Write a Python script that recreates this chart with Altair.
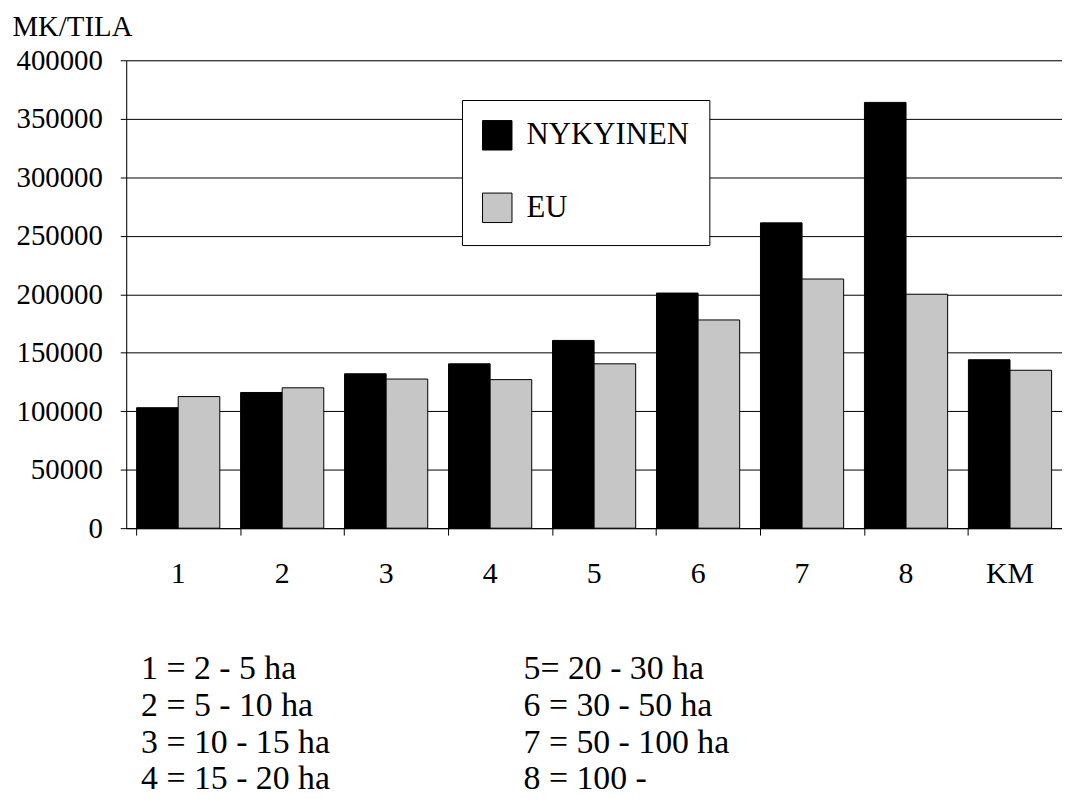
import altair as alt
import pandas as pd

categories = ["1", "2", "3", "4", "5", "6", "7", "8", "KM"]
nykyinen = [103000, 116000, 132000, 140500, 160500, 201000, 261000, 364000, 144000]
eu = [112500, 120000, 127500, 127000, 140500, 178000, 213000, 200000, 135000]
series = ["NYKYINEN", "EU"]
colors = ["#000000", "#c6c6c6"]
y_ticks = [0, 50000, 100000, 150000, 200000, 250000, 300000, 350000, 400000]
notes_left = ["1 = 2 - 5 ha", "2 = 5 - 10 ha", "3 = 10 - 15 ha", "4 = 15 - 20 ha"]
notes_right = ["5= 20 - 30 ha", "6 = 30 - 50 ha", "7 = 50 - 100 ha", "8 = 100 -"]

rows = []
for c, a, b in zip(categories, nykyinen, eu):
    rows.append({"cat": c, "series": series[0], "value": a})
    rows.append({"cat": c, "series": series[1], "value": b})
df = pd.DataFrame(rows)

FONT = "Liberation Serif"

bars = alt.Chart(df).mark_bar(stroke="black", strokeWidth=1).encode(
    x=alt.X("cat:N", sort=categories,
            scale=alt.Scale(paddingInner=0.2, paddingOuter=0.1),
            axis=alt.Axis(title=None, labelAngle=0, labelFontSize=30, labelFont=FONT,
                          labelColor="black", bandPosition=0, ticks=True, tickSize=7,
                          tickColor="black", domainColor="black", labelPadding=24,
                          grid=False)),
    xOffset=alt.XOffset("series:N", sort=series),
    y=alt.Y("value:Q", scale=alt.Scale(domain=[0, 400000], nice=False),
            axis=alt.Axis(values=y_ticks, title="MK/TILA", titleAngle=0, titleAlign="left",
                          titleBaseline="alphabetic", titleX=-115, titleY=-25,
                          titleFont=FONT, titleFontSize=29, titleFontWeight="normal",
                          titleColor="black", labelFont=FONT, labelFontSize=29,
                          labelColor="black", tickSize=6, tickColor="black",
                          domainColor="black", labelPadding=18, grid=True,
                          gridColor="black", gridWidth=1, format="d")),
    fill=alt.Fill("series:N", sort=series,
                  scale=alt.Scale(domain=series, range=colors),
                  legend=alt.Legend(title=None, orient="none", legendX=338, legendY=40,
                                    symbolType="square", symbolSize=880,
                                    symbolStrokeColor="black", symbolStrokeWidth=1,
                                    labelFont=FONT, labelFontSize=31, labelColor="black",
                                    labelOffset=14, rowPadding=38, padding=20,
                                    strokeColor="black", fillColor="white",
                                    labelLimit=400)),
)

left_text = alt.Chart(pd.DataFrame({"t": [0]})).mark_text(
    text=notes_left, align="left", baseline="alphabetic", font=FONT, fontSize=34,
    lineHeight=37, color="black"
).encode(x=alt.value(15), y=alt.value(623))

right_text = alt.Chart(pd.DataFrame({"t": [0]})).mark_text(
    text=notes_right, align="left", baseline="alphabetic", font=FONT, fontSize=34,
    lineHeight=37, color="black"
).encode(x=alt.value(400), y=alt.value(623))

chart = alt.layer(bars, left_text, right_text).properties(
    width=942, height=471,
    autosize=alt.AutoSizeParams(type="none"),
    padding={"left": 119, "top": 50, "right": 0, "bottom": 270},
).configure_view(stroke=None).configure(background="white")

chart.save("out.html", embed_options={"renderer": "svg", "actions": False})
